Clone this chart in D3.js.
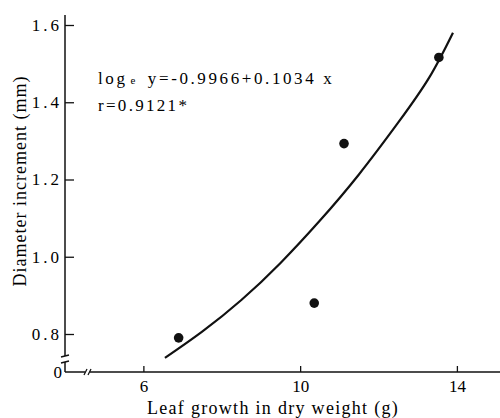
<!DOCTYPE html>
<html><head><meta charset="utf-8">
<script src="https://cdn.jsdelivr.net/npm/d3@7/dist/d3.min.js"></script>
<style>
body{margin:0;background:#fff;}
svg{display:block;}
text{font-family:"Liberation Serif","DejaVu Serif",serif;fill:#000;}
</style></head>
<body>
<script>
// Observed data points (leaf growth g, diameter increment mm)
const leafGrowth = [6.9, 10.36, 11.12, 13.54];
const diamIncrement = [0.79, 0.88, 1.293, 1.516];
// Fitted curve, points
const curveX = [6.55, 7.5, 8.5, 9.5, 10.5, 11.5, 12.5, 13.3, 13.9];
const curveY = [0.738, 0.806, 0.888, 0.984, 1.093, 1.213, 1.347, 1.465, 1.58];
const xTicks = [6, 10, 14];
const yTicks = [0.8, 1.0, 1.2, 1.4, 1.6];
const xTitle = "Leaf growth in dry weight (g)";
const yTitle = "Diameter increment (mm)";
const eqMain = "log";
const eqSub = "e";
const eqRest = " y=-0.9966+0.1034 x";
const rText = "r=0.9121*";

const W = 500, H = 418;
const svg = d3.select("body").append("svg").attr("width", W).attr("height", H);

const axX = 65, axY = 372;
const x = d3.scaleLinear().domain([4, 15.1]).range([axX, 500]);
const y = d3.scaleLinear().domain([0.8, 1.6]).range([334, 25]);

const ink = "#111";

// y axis line with break
svg.append("line").attr("x1", axX).attr("x2", axX).attr("y1", 15).attr("y2", 356).attr("stroke", ink).attr("stroke-width", 1.5);
svg.append("line").attr("x1", axX).attr("x2", axX).attr("y1", 362).attr("y2", axY).attr("stroke", ink).attr("stroke-width", 1.5);
svg.append("line").attr("x1", axX - 4).attr("x2", axX + 4).attr("y1", 357).attr("y2", 355).attr("stroke", ink).attr("stroke-width", 1.3);
svg.append("line").attr("x1", axX - 4).attr("x2", axX + 4).attr("y1", 363).attr("y2", 361).attr("stroke", ink).attr("stroke-width", 1.3);

// x axis line with break
svg.append("line").attr("x1", axX).attr("x2", 85).attr("y1", axY).attr("y2", axY).attr("stroke", ink).attr("stroke-width", 1.5);
svg.append("line").attr("x1", 90).attr("x2", 500).attr("y1", axY).attr("y2", axY).attr("stroke", ink).attr("stroke-width", 1.5);
svg.append("line").attr("x1", 84).attr("x2", 87).attr("y1", axY + 3).attr("y2", axY - 3).attr("stroke", ink).attr("stroke-width", 1.3);
svg.append("line").attr("x1", 88).attr("x2", 91).attr("y1", axY + 3).attr("y2", axY - 3).attr("stroke", ink).attr("stroke-width", 1.3);

// y axis ticks
const yAxis = d3.axisLeft(y).tickValues(yTicks).tickSizeInner(-9).tickSizeOuter(0).tickPadding(3)
  .tickFormat(d3.format(".1f"));
const gy = svg.append("g").attr("transform", `translate(${axX},0)`).call(yAxis);
gy.select(".domain").remove();
gy.selectAll(".tick line").attr("stroke", ink).attr("stroke-width", 1.3);
gy.selectAll(".tick text").attr("font-size", 17).style("letter-spacing", "3px")
  .attr("font-family", "Liberation Serif, serif");

// x axis ticks
const xAxis = d3.axisBottom(x).tickValues(xTicks).tickSizeInner(-6).tickSizeOuter(0).tickPadding(8)
  .tickFormat(d3.format("d"));
const gx = svg.append("g").attr("transform", `translate(0,${axY})`).call(xAxis);
gx.select(".domain").remove();
gx.selectAll(".tick line").attr("stroke", ink).attr("stroke-width", 1.3);
gx.selectAll(".tick text").attr("font-size", 17).attr("font-family", "Liberation Serif, serif");

// origin label
svg.append("text").attr("x", axX - 3).attr("y", axY + 6).attr("text-anchor", "end")
  .attr("font-size", 17).text("0");

// axis titles
svg.append("text").attr("x", 273).attr("y", 414).attr("text-anchor", "middle")
  .attr("font-size", 18).style("letter-spacing", "1.3px").text(xTitle);
svg.append("text").attr("transform", "translate(26,181) rotate(-90)").attr("text-anchor", "middle")
  .attr("font-size", 18).style("letter-spacing", "1px").text(yTitle);

// fitted curve
const line = d3.line().x(d => x(d[0])).y(d => y(d[1])).curve(d3.curveNatural);
svg.append("path").datum(curveX.map((v, i) => [v, curveY[i]]))
  .attr("d", line).attr("fill", "none").attr("stroke", ink).attr("stroke-width", 2.2);

// points
svg.selectAll("circle.pt").data(leafGrowth.map((v, i) => [v, diamIncrement[i]])).enter()
  .append("circle").attr("class", "pt").attr("cx", d => x(d[0])).attr("cy", d => y(d[1]))
  .attr("r", 4.8).attr("fill", ink);

// equation
const eq = svg.append("text").attr("x", 98).attr("y", 84).attr("font-size", 17).style("letter-spacing", "2.6px");
eq.append("tspan").text(eqMain);
eq.append("tspan").attr("font-size", 11).attr("dx", 3).text(eqSub);
eq.append("tspan").attr("dx", 3).text(eqRest);
svg.append("text").attr("x", 98).attr("y", 111).attr("font-size", 17).style("letter-spacing", "2.3px").text(rText);
</script>
</body></html>
